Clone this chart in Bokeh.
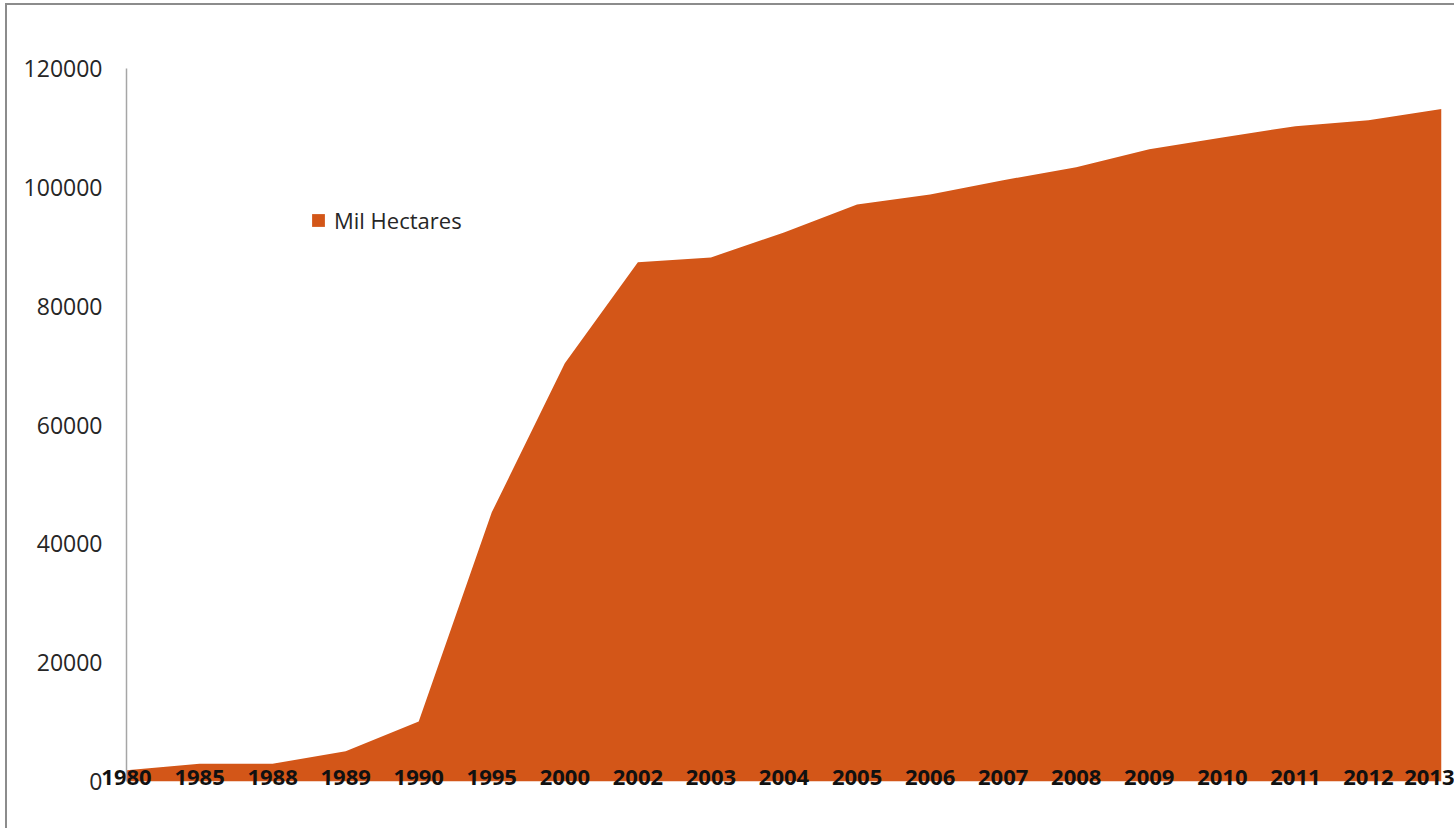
from bokeh.plotting import figure
from bokeh.models import Range1d, FixedTicker, BasicTickFormatter, Legend, LegendItem, ColumnDataSource
from bokeh.embed import file_html
from bokeh.resources import INLINE

years = ["1980", "1985", "1988", "1989", "1990", "1995", "2000", "2002", "2003", "2004",
         "2005", "2006", "2007", "2008", "2009", "2010", "2011", "2012", "2013"]
mil_hectares = [1900, 3000, 3000, 5100, 10100, 45300, 70400, 87400, 88200, 92400,
                97100, 98800, 101200, 103400, 106400, 108400, 110300, 111300, 113200]
y_ticks = [0, 20000, 40000, 60000, 80000, 100000, 120000]
series_name = "Mil Hectares"

idx = list(range(len(years)))
src = ColumnDataSource(dict(x=idx, y=mil_hectares, base=[0] * len(idx)))

p = figure(width=1449, height=825, output_backend="svg", toolbar_location=None,
           x_range=Range1d(0, len(years) - 1), y_range=Range1d(0, 120000),
           min_border_left=119, min_border_right=15, min_border_top=63, min_border_bottom=49,
           margin=(3, 0, 0, 5),
           styles={"border-top": "2px solid #8c8c8c", "border-left": "2px solid #8c8c8c"})
p.outline_line_color = None
p.xgrid.visible = False
p.ygrid.visible = False
p.background_fill_color = "white"
p.border_fill_color = "white"

area = p.varea(x="x", y1="base", y2="y", source=src, fill_color="#D35618")

xa = p.xaxis[0]
xa.ticker = FixedTicker(ticks=idx)
xa.major_label_overrides = {i: y for i, y in zip(idx, years)}
xa.axis_line_color = None
xa.major_tick_line_color = None
xa.minor_tick_line_color = None
xa.major_tick_out = 0
xa.major_tick_in = 0
xa.major_label_standoff = -12
xa.major_label_text_font = "Open Sans"
xa.major_label_text_font_style = "bold"
xa.major_label_text_font_size = "22px"
xa.major_label_text_color = "#111111"

ya = p.yaxis[0]
ya.ticker = FixedTicker(ticks=y_ticks)
ya.formatter = BasicTickFormatter(use_scientific=False)
ya.axis_line_color = "#a6a6a6"
ya.axis_line_width = 1.5
ya.major_tick_line_color = None
ya.minor_tick_line_color = None
ya.major_tick_out = 0
ya.major_tick_in = 0
ya.major_label_standoff = 24
ya.major_label_text_font = "Open Sans"
ya.major_label_text_font_size = "23px"
ya.major_label_text_color = "#262626"

legend = Legend(items=[LegendItem(label=series_name, renderers=[area])],
                location=(184, 546), glyph_width=16, glyph_height=16, label_standoff=8,
                padding=0, margin=0, spacing=0, border_line_color=None,
                background_fill_alpha=0, label_height=22,
                label_text_font="Open Sans", label_text_font_size="22px",
                label_text_color="#262626")
p.add_layout(legend, "center")

open("out.html", "w").write(file_html(p, INLINE))
